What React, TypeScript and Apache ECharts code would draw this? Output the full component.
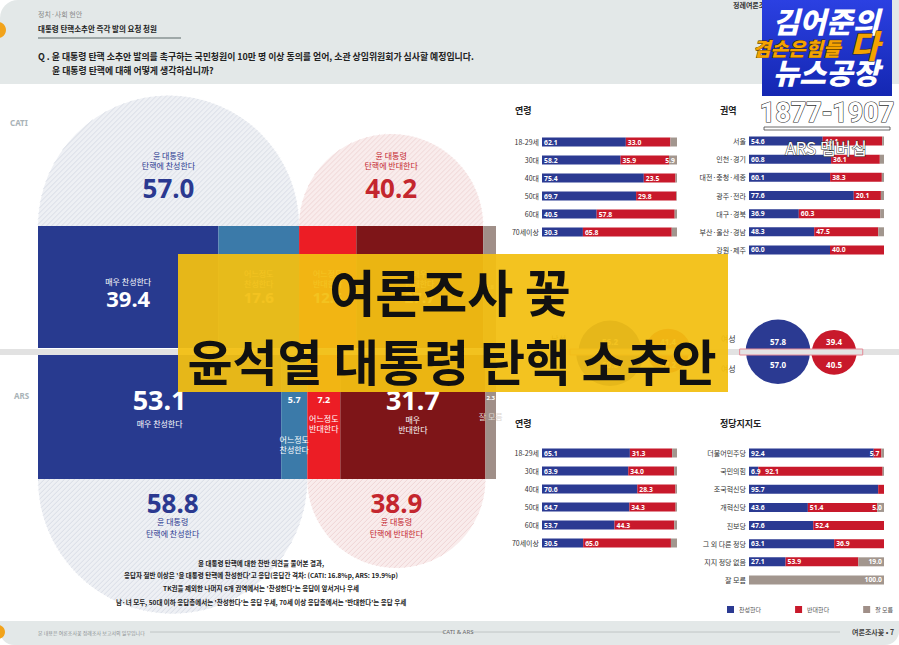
import React, { useEffect, useRef } from 'react';
import * as echarts from 'echarts';

// ---------- DATA ----------
const bigSegments = ['매우 찬성한다', '어느정도 찬성한다', '어느정도 반대한다', '매우 반대한다', '잘 모름'];
const bigSegLines = [['매우 찬성한다'], ['어느정도', '찬성한다'], ['어느정도', '반대한다'], ['매우', '반대한다'], ['잘 모름']];
const catiBig = [39.4, 17.6, 12.5, 27.7, 2.8];
const arsBig = [53.1, 5.7, 7.2, 31.7, 2.3];
const catiTotals = [57.0, 40.2];
const arsTotals = [58.8, 38.9];
const totalLabels = ['탄핵에 찬성한다', '탄핵에 반대한다'];

const ageCats = ['18-29세', '30대', '40대', '50대', '60대', '70세이상'];
const catiAgeFor = [62.1, 58.2, 75.4, 69.7, 40.5, 30.3];
const catiAgeAgainst = [33.0, 35.9, 23.5, 29.8, 57.8, 65.8];
const catiAgeDk = [4.9, 5.9, 1.1, 0.5, 1.7, 3.9];

const regionCats = ['서울', '인천·경기', '대전·충청·세종', '광주·전라', '대구·경북', '부산·울산·경남', '강원·제주'];
const regionFor = [54.6, 60.8, 60.1, 77.6, 36.9, 48.3, 60.0];
const regionAgainst = [44.1, 36.1, 38.3, 20.1, 60.3, 47.5, 40.0];
const regionDk = [1.3, 3.1, 1.6, 2.3, 2.8, 4.2, 0];

const arsAgeFor = [65.1, 63.9, 70.6, 64.7, 53.7, 30.5];
const arsAgeAgainst = [31.3, 34.0, 28.3, 34.3, 44.3, 65.0];
const arsAgeDk = [3.6, 2.1, 1.1, 1.0, 2.0, 4.5];

const partyCats = ['더불어민주당', '국민의힘', '조국혁신당', '개혁신당', '진보당', '그 외 다른 정당', '지지 정당 없음', '잘 모름'];
const partyFor = [92.4, 6.9, 95.7, 43.6, 47.6, 63.1, 27.1, 0];
const partyAgainst = [5.7, 92.1, 4.3, 51.4, 52.4, 36.9, 53.9, 0];
const partyDk = [1.9, 1.0, 0, 5.0, 0, 0, 19.0, 100.0];

const genderCats = ['남성', '여성'];
const catiGenderFor = [56.2, 57.8];
const catiGenderAgainst = [41.4, 39.4];
const arsGenderFor = [60.6, 57.0];
const arsGenderAgainst = [37.2, 40.5];

const legendNames = ['찬성한다', '반대한다', '잘 모름'];

// ---------- STYLE ----------
const FONT = "'Noto Sans CJK KR', 'Noto Sans', sans-serif";
const NUM = "'Noto Sans', 'Roboto', sans-serif";
const C_BLUE = '#2b3a92';
const C_RED = '#c8192b';
const C_GRAY = '#a2968e';
const bigColors = ['#283a8f', '#3b7aa9', '#ec1d25', '#7e1518', '#a08f88'];

function hatch(cx: number, cy: number, r: number, top: boolean, step: number, color: string) {
  const els: any[] = [];
  const kMax = r * Math.SQRT2;
  for (let k = -kMax + step / 2; k < kMax; k += step) {
    const disc = 2 * r * r - k * k;
    if (disc <= 0) continue;
    const s = Math.sqrt(disc);
    let u1 = (k - s) / 2;
    let u2 = (k + s) / 2;
    if (top) u1 = Math.max(u1, k);
    else u2 = Math.min(u2, k);
    if (u2 - u1 < 0.5) continue;
    els.push({
      type: 'line',
      silent: true,
      shape: { x1: cx + u1, y1: cy + k - u1, x2: cx + u2, y2: cy + k - u2 },
      style: { stroke: color, lineWidth: 0.9 },
    });
  }
  return els;
}

function makeSemi(top: boolean) {
  return (params: any, api: any) => {
    const s = api.value(0);
    const e = api.value(1);
    const tot = api.value(2);
    const kind = api.value(3);
    const p0 = api.coord([s, 0]);
    const p1 = api.coord([e, 0]);
    const cs = params.coordSys;
    const cx = (p0[0] + p1[0]) / 2;
    const r = (p1[0] - p0[0]) / 2;
    const cy = top ? cs.y : cs.y + cs.height;
    const fill = kind === 0 ? '#eef0f4' : '#f9ecec';
    const line = kind === 0 ? '#d5d9e3' : '#eed2d2';
    const tc = kind === 0 ? '#2b3990' : '#c4262e';
    const children: any[] = [
      {
        type: 'sector',
        silent: true,
        shape: { cx, cy, r, r0: 0, startAngle: top ? Math.PI : 0, endAngle: top ? Math.PI * 2 : Math.PI, clockwise: true },
        style: { fill },
      },
      ...hatch(cx, cy, r, top, 5, line),
    ];
    const numY = top ? cy - 38 : cy + 24;
    const l1 = top ? cy - 71 : cy + 42;
    const l2 = top ? cy - 61 : cy + 54;
    const txt = (t: string, y: number, size: number, bold: boolean, fam: string) => ({
      type: 'text',
      x: cx,
      y,
      silent: true,
      style: { text: t, fill: tc, fontSize: size, fontWeight: bold ? 'bold' : 'normal', fontFamily: fam, align: 'center', verticalAlign: 'middle' },
    });
    children.push(txt(tot.toFixed(1), numY, 26, true, NUM));
    children.push(txt('윤 대통령', l1, 8, false, FONT));
    children.push(txt(totalLabels[kind], l2, 8, false, FONT));
    return { type: 'group', children };
  };
}

function genderRender(params: any, api: any) {
  const idx = api.value(0);
  const cf = api.value(1);
  const ca = api.value(2);
  const af = api.value(3);
  const aa = api.value(4);
  const pt = api.coord([idx, 0]);
  const cxB = pt[0];
  const cy = pt[1];
  const k = 0.56;
  const rbT = cf * k, rbB = af * k, rrT = ca * k, rrB = aa * k;
  const rb = Math.max(rbT, rbB);
  const rr = Math.max(rrT, rrB);
  const cxR = cxB + rb + rr + 1;
  const half = (cx: number, r: number, top: boolean, color: string) => ({
    type: 'sector',
    silent: true,
    shape: { cx, cy, r, r0: 0, startAngle: top ? Math.PI : 0, endAngle: top ? Math.PI * 2 : Math.PI, clockwise: true },
    style: { fill: color },
  });
  const t = (text: string, x: number, y: number, color: string, align: string, bold: boolean) => ({
    type: 'text',
    x,
    y,
    silent: true,
    style: { text, fill: color, fontSize: 8, fontWeight: bold ? 'bold' : 'normal', fontFamily: bold ? NUM : FONT, align, verticalAlign: 'middle' },
  });
  return {
    type: 'group',
    children: [
      half(cxB, rbT, true, C_BLUE),
      half(cxB, rbB, false, C_BLUE),
      half(cxR, rrT, true, C_RED),
      half(cxR, rrB, false, C_RED),
      {
        type: 'rect',
        silent: true,
        shape: { x: cxB - rb - 6, y: cy - 3, width: cxR + rr - cxB + rb + 12, height: 6 },
        style: { fill: '#e4e4e4', stroke: '#e58a96', lineWidth: 1 },
      },
      t(cf.toFixed(1), cxB, cy - 11, '#fff', 'center', true),
      t(af.toFixed(1), cxB, cy + 12, '#fff', 'center', true),
      t(ca.toFixed(1), cxR, cy - 11, '#fff', 'center', true),
      t(aa.toFixed(1), cxR, cy + 12, '#fff', 'center', true),
      t(genderCats[idx], cxB - rb - 10, cy - 14, '#333', 'right', false),
      t(genderCats[idx], cxB - rb - 10, cy + 16, '#333', 'right', false),
    ],
  };
}

function buildOption() {
  const grid = [
    { left: 38, top: 226, width: 458, height: 122 },
    { left: 38, top: 355, width: 458, height: 124 },
    { left: 542, top: 133, width: 135, height: 108 },
    { left: 749, top: 132, width: 135, height: 127 },
    { left: 542, top: 444, width: 135, height: 108 },
    { left: 749, top: 444, width: 135, height: 145 },
    { left: 526, top: 300, width: 336, height: 104 },
  ];
  const smallCats = [ageCats, regionCats, ageCats, partyCats];
  const xAxis: any[] = [];
  const yAxis: any[] = [];
  for (let g = 0; g < 6; g++) {
    xAxis.push({ gridIndex: g, type: 'value', min: 0, max: 100, show: false });
  }
  xAxis.push({ gridIndex: 6, type: 'category', data: genderCats, show: false });
  yAxis.push({ gridIndex: 0, type: 'category', data: ['CATI'], show: false });
  yAxis.push({ gridIndex: 1, type: 'category', data: ['ARS'], show: false });
  for (let j = 0; j < 4; j++) {
    yAxis.push({
      gridIndex: j + 2,
      type: 'category',
      data: smallCats[j],
      inverse: true,
      axisLine: { show: false },
      axisTick: { show: false },
      axisLabel: { fontSize: 7, color: '#333', margin: 3, fontFamily: FONT },
    });
  }
  yAxis.push({ gridIndex: 6, type: 'value', min: -1, max: 1, show: false });

  const series: any[] = [];

  const semiData = (tot: number[]) => [
    [0, tot[0], tot[0], 0, 0],
    [tot[0], tot[0] + tot[1], tot[1], 1, 0],
  ];
  series.push({ type: 'custom', name: 'CATI 합계', xAxisIndex: 0, yAxisIndex: 0, data: semiData(catiTotals), encode: { x: [0, 1], y: 4 }, renderItem: makeSemi(true), silent: true, z: 1 });
  series.push({ type: 'custom', name: 'ARS 합계', xAxisIndex: 1, yAxisIndex: 1, data: semiData(arsTotals), encode: { x: [0, 1], y: 4 }, renderItem: makeSemi(false), silent: true, z: 1 });

  const richBase = {
    t: { fontSize: 8, color: '#fff', lineHeight: 10, fontFamily: FONT },
    t2: { fontSize: 8, color: '#fff', lineHeight: 18, fontFamily: FONT },
    n: { fontSize: 22, color: '#fff', fontWeight: 'bold', lineHeight: 24, fontFamily: NUM },
    n2: { fontSize: 27, color: '#fff', fontWeight: 'bold', lineHeight: 30, fontFamily: NUM },
    m: { fontSize: 15, color: '#fff', fontWeight: 'bold', lineHeight: 18, fontFamily: NUM },
    s: { fontSize: 9, color: '#fff', fontWeight: 'bold', lineHeight: 12, fontFamily: NUM },
    s2: { fontSize: 6, color: '#fff', fontWeight: 'bold', lineHeight: 10, fontFamily: NUM },
    g: { fontSize: 8, color: '#ddd6d2', lineHeight: 10, fontFamily: FONT },
    sp: { fontSize: 4, lineHeight: 29 },
    sp2: { fontSize: 4, lineHeight: 8 },
  };

  const catiLabel = (i: number, v: number) => {
    const lines = bigSegLines[i];
    if (i === 0) return { position: 'inside', offset: [0, 6], formatter: `{t|${lines.join(' ')}}\n{n|${v.toFixed(1)}}` };
    if (i === 4) return { position: 'inside', formatter: `{s2|${v.toFixed(1)}}` };
    return { position: 'inside', formatter: `${lines.map((l) => `{t|${l}}`).join('\n')}\n{m|${v.toFixed(1)}}` };
  };
  const arsLabel = (i: number, v: number) => {
    const lines = bigSegLines[i];
    if (i === 0) return { position: 'insideTop', distance: 29, formatter: `{n2|${v.toFixed(1)}}\n{t2|${lines[0]}}` };
    if (i === 1) return { position: 'insideTop', distance: 38, formatter: `{s|${v.toFixed(1)}}\n{sp| }\n${lines.map((l) => `{t|${l}}`).join('\n')}` };
    if (i === 2) return { position: 'insideTop', distance: 38, formatter: `{s|${v.toFixed(1)}}\n{sp2| }\n${lines.map((l) => `{t|${l}}`).join('\n')}` };
    if (i === 3) return { position: 'insideTop', distance: 29, formatter: `{n2|${v.toFixed(1)}}\n${lines.map((l) => `{t|${l}}`).join('\n')}` };
    return { position: 'insideTop', distance: 38, formatter: `{s2|${v.toFixed(1)}}\n{sp2| }\n{g|${lines[0]}}` };
  };

  bigSegments.forEach((name, i) => {
    series.push({
      type: 'bar',
      name,
      xAxisIndex: 0,
      yAxisIndex: 0,
      stack: 'cati',
      barWidth: '100%',
      z: 3,
      itemStyle: { color: bigColors[i] },
      label: { show: true, rich: richBase, ...catiLabel(i, catiBig[i]) },
      data: [catiBig[i]],
    });
    series.push({
      type: 'bar',
      name,
      xAxisIndex: 1,
      yAxisIndex: 1,
      stack: 'ars',
      barWidth: '100%',
      z: 3,
      itemStyle: { color: bigColors[i] },
      label: { show: true, rich: richBase, ...arsLabel(i, arsBig[i]) },
      data: [arsBig[i]],
    });
  });

  const smallSets = [
    [catiAgeFor, catiAgeAgainst, catiAgeDk],
    [regionFor, regionAgainst, regionDk],
    [arsAgeFor, arsAgeAgainst, arsAgeDk],
    [partyFor, partyAgainst, partyDk],
  ];
  const smallColors = [C_BLUE, C_RED, C_GRAY];
  const thresholds = [0.01, 5, 5];
  smallSets.forEach((set, j) => {
    const g = j + 2;
    set.forEach((arr, s) => {
      series.push({
        type: 'bar',
        name: legendNames[s],
        xAxisIndex: g,
        yAxisIndex: g,
        stack: 'small' + g,
        barWidth: 9,
        z: 3,
        itemStyle: { color: smallColors[s] },
        label: {
          show: true,
          color: '#fff',
          fontSize: 6.8,
          fontWeight: 'bold',
          fontFamily: NUM,
          distance: 2,
          position: s === 2 ? 'insideRight' : 'insideLeft',
          formatter: (p: any) => (p.value >= thresholds[s] ? Number(p.value).toFixed(1) : ''),
        },
        data: arr.map((v, i) => {
          if (s === 1 && v < 10) return { value: v, label: { position: 'insideRight' } };
          if (s === 1 && set[0][i] < 10) return { value: v, label: { distance: 7 } };
          return v;
        }),
      });
    });
  });

  series.push({
    type: 'custom',
    name: '성별',
    xAxisIndex: 6,
    yAxisIndex: 6,
    z: 4,
    silent: true,
    data: genderCats.map((_, i) => [i, catiGenderFor[i], catiGenderAgainst[i], arsGenderFor[i], arsGenderAgainst[i], 0]),
    encode: { x: 0, y: 5 },
    renderItem: genderRender,
  });

  const T = (text: string, x: number, y: number, size: number, color: string, opts: any = {}) => ({
    type: 'text',
    x,
    y,
    z: opts.z ?? 5,
    silent: true,
    style: {
      text,
      fill: color,
      fontSize: size,
      fontWeight: opts.weight ?? 'normal',
      fontFamily: opts.family ?? FONT,
      fontStyle: opts.style ?? 'normal',
      textAlign: opts.align ?? 'left',
      textVerticalAlign: 'middle',
      stroke: opts.stroke,
      lineWidth: opts.lineWidth ?? 0,
    },
  });

  const PX = 261;
  const graphic: any[] = [
    { type: 'rect', z: 0, silent: true, shape: { x: 0, y: 0, width: 899, height: 84, r: [18, 0, 0, 0] }, style: { fill: '#e3e8e8' } },
    { type: 'rect', z: 0, silent: true, shape: { x: 0, y: 621, width: 899, height: 24, r: [0, 0, 14, 14] }, style: { fill: '#e3e8e8' } },
    { type: 'circle', z: 1, silent: true, shape: { cx: -2, cy: 30, r: 8 }, style: { fill: '#f2a31b' } },
    { type: 'circle', z: 1, silent: true, shape: { cx: -2, cy: 632, r: 7 }, style: { fill: '#f2a31b' } },
    T('정치·사회 현안', 38, 14, 7, '#888'),
    T('대통령 탄핵소추안 즉각 발의 요청 청원', 38, 28, 7.5, '#222', { weight: 'bold' }),
    { type: 'rect', z: 1, silent: true, shape: { x: 38, y: 37, width: 143, height: 2 }, style: { fill: '#9fa8a8' } },
    T('Q . 윤 대통령 탄핵 소추안 발의를 촉구하는 국민청원이 10만 명 이상 동의를 얻어, 소관 상임위원회가 심사할 예정입니다.', 38, 56, 8.9, '#222', { weight: 'bold' }),
    T('윤 대통령 탄핵에 대해 어떻게 생각하십니까?', 52, 70, 8.9, '#222', { weight: 'bold' }),
    T('정례여론조사', 733, 5, 7, '#333', { weight: 'bold' }),
    { type: 'rect', z: 0, silent: true, shape: { x: 0, y: 349, width: 899, height: 6 }, style: { fill: '#e2e2e2' } },
    T('CATI', 10, 122, 8, '#a9b3b7', { weight: 'bold', family: NUM }),
    T('ARS', 14, 395, 8, '#a9b3b7', { weight: 'bold', family: NUM }),
    T('연령', 515, 110, 9, '#222', { weight: 'bold' }),
    T('권역', 720, 110, 9, '#222', { weight: 'bold' }),
    T('연령', 515, 423, 9, '#222', { weight: 'bold' }),
    T('정당지지도', 720, 423, 9, '#222', { weight: 'bold' }),
    T('윤 대통령 탄핵에 대한 찬반 의견을 물어본 결과,', PX, 563, 6.5, '#222', { weight: 'bold', align: 'center' }),
    T("응답자 절반 이상은 '윤 대통령 탄핵에 찬성한다'고 응답(응답간 격차: (CATI: 16.8%p, ARS: 19.9%p)", PX, 575, 6.5, '#222', { weight: 'bold', align: 'center' }),
    T("TK권을 제외한 나머지 6개 권역에서는 '찬성한다'는 응답이 앞서거나 우세", PX, 588, 6.5, '#222', { weight: 'bold', align: 'center' }),
    T("남·녀 모두, 50대 이하 응답층에서는 '찬성한다'는 응답 우세, 70세 이상 응답층에서는 '반대한다'는 응답 우세", PX, 602, 6.5, '#222', { weight: 'bold', align: 'center' }),
    T('본 내용은 여론조사꽃 정례조사 보고서의 일부입니다', 38, 632, 5, '#8a8f90'),
    { type: 'line', z: 1, silent: true, shape: { x1: 150, y1: 632, x2: 445, y2: 632 }, style: { stroke: '#b8bcbc', lineWidth: 0.8 } },
    T('CATI & ARS', 458, 632, 6, '#666', { align: 'center', family: NUM }),
    { type: 'line', z: 1, silent: true, shape: { x1: 472, y1: 632, x2: 840, y2: 632 }, style: { stroke: '#b8bcbc', lineWidth: 0.8 } },
    T('여론조사꽃 • 7', 852, 632, 7, '#444', { weight: 'bold' }),
    { type: 'rect', z: 50, silent: true, shape: { x: 178, y: 254, width: 550, height: 138 }, style: { fill: '#f2bf12', opacity: 0.94 } },
    T('여론조사 꽃', 450, 290, 50, '#111', { weight: 'bold', align: 'center', z: 51 }),
    T('윤석열 대통령 탄핵 소추안', 452, 359, 49, '#111', { weight: 'bold', align: 'center', z: 51 }),
    {
      type: 'rect',
      z: 50,
      silent: true,
      shape: { x: 762, y: 0, width: 130, height: 96 },
      style: { fill: { type: 'linear', x: 0, y: 0, x2: 0, y2: 1, colorStops: [{ offset: 0, color: '#2b40e2' }, { offset: 1, color: '#1427b2' }] } },
    },
    T('김어준의', 826, 20, 29, '#fff', { weight: 900, align: 'center', style: 'italic', z: 51 }),
    T('겸손은힘들', 753, 47, 19, '#f5a300', { weight: 900, style: 'italic', z: 52, stroke: '#3a2a00', lineWidth: 0.8 }),
    T('다', 850, 44, 32, '#f5a300', { weight: 900, style: 'italic', z: 52, stroke: '#3a2a00', lineWidth: 0.8 }),
    T('뉴스공장', 826, 71, 29, '#fff', { weight: 900, align: 'center', style: 'italic', z: 51 }),
    T('1877-1907', 827, 113, 27, '#fff', { weight: 'bold', family: 'Roboto, sans-serif', align: 'center', z: 51, stroke: '#333', lineWidth: 1.2 }),
    { type: 'rect', z: 51, silent: true, shape: { x: 764, y: 127, width: 126, height: 3 }, style: { fill: '#fff', stroke: '#444', lineWidth: 0.8 } },
    T('ARS 멤버십', 826, 147, 17, '#fff', { align: 'center', z: 60, stroke: '#333', lineWidth: 1 }),
  ];

  return {
    animation: false,
    backgroundColor: '#ffffff',
    textStyle: { fontFamily: FONT },
    grid,
    xAxis,
    yAxis,
    legend: {
      data: legendNames,
      left: 722,
      top: 601,
      itemWidth: 7,
      itemHeight: 7,
      itemGap: 34,
      icon: 'rect',
      textStyle: { fontSize: 6, color: '#555', fontFamily: FONT },
    },
    series,
    graphic,
  };
}

export default function App() {
  const ref = useRef<HTMLDivElement>(null);
  useEffect(() => {
    const chart = echarts.init(ref.current!, null, { renderer: 'svg' });
    chart.setOption(buildOption() as any);
    return () => chart.dispose();
  }, []);
  return <div ref={ref} style={{ position: 'absolute', left: 0, top: 0, width: 899, height: 645, background: '#fff' }} />;
}
